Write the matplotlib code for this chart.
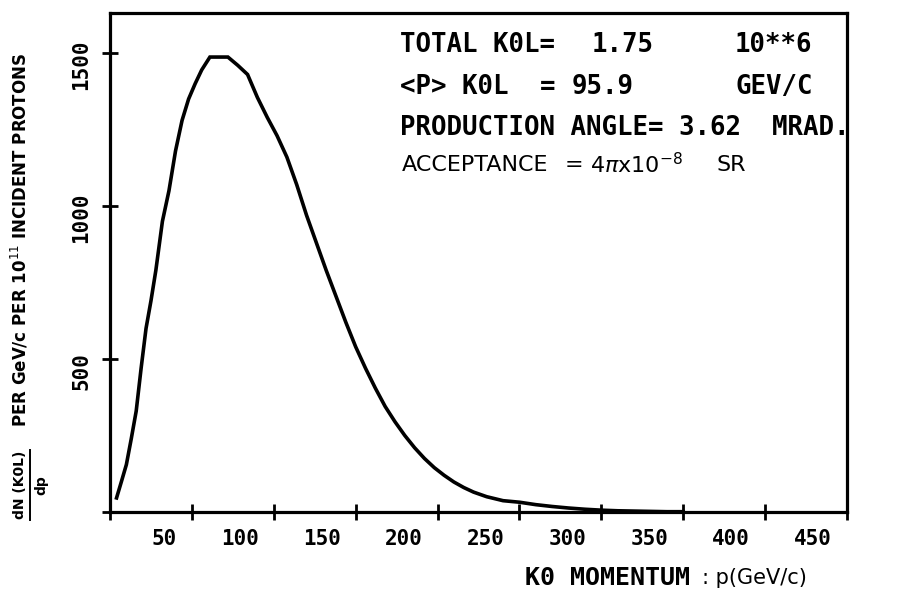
import matplotlib
matplotlib.use("Agg")
import matplotlib.pyplot as plt
from matplotlib.transforms import ScaledTranslation
from matplotlib.lines import Line2D

# ---- data ----
momentum = [4, 7, 10, 13, 16, 19, 22, 25, 28, 32, 36, 40, 44, 48, 52, 56, 61,
            72, 78, 84, 90, 96, 102, 108, 114, 120, 126, 132, 138, 144, 150,
            156, 162, 168, 174, 180, 186, 192, 198, 204, 210, 216, 222, 230,
            240, 250, 260, 270, 280, 290, 300, 310, 320, 330, 340, 350]
dn_dp = [46, 100, 155, 240, 330, 470, 600, 690, 790, 950, 1050, 1180, 1280,
         1350, 1400, 1445, 1487,
         1487, 1460, 1430, 1355, 1290, 1230, 1160, 1070, 970, 880, 790, 705,
         620, 540, 470, 405, 345, 295, 250, 210, 175, 145, 120, 98, 80, 65,
         50, 37, 32, 24, 18, 13, 9, 6, 4, 3, 2, 1, 1]

x_ticks = [0, 50, 100, 150, 200, 250, 300, 350, 400, 450]
x_ticklabels = ["", "50", "100", "150", "200", "250", "300", "350", "400", "450"]
y_ticks = [0, 500, 1000, 1500]
y_ticklabels = ["", "500", "1000", "1500"]

# info block: (text, x pixel, y pixel)
info_parts = [("TOTAL K0L=", 400, 45), ("1.75", 592, 45), ("10**6", 735, 45),
              ("<P> K0L", 400, 87), ("=", 540, 87), ("95.9", 572, 87),
              ("GEV/C", 735, 87),
              ("PRODUCTION ANGLE= 3.62  MRAD.", 400, 128)]
accept_parts = [("ACCEPTANCE", 402), ("=", 565), (r"4$\pi$x10$^{-8}$", 590),
                ("SR", 716)]

W, H = 905, 591
fig = plt.figure(figsize=(W / 100, H / 100), dpi=100)
ax = fig.add_axes([110 / W, 1 - 512 / H, (847 - 110) / W, (512 - 13) / H])

mono = "DejaVu Sans Mono"

ax.plot(momentum, dn_dp, color="black", lw=2.6, solid_joinstyle="miter")
ax.set_xlim(0, 450)
ax.set_ylim(0, 1631)

for s in ax.spines.values():
    s.set_linewidth(2.3)
    s.set_color("black")

ax.set_xticks(x_ticks)
ax.set_xticklabels(x_ticklabels, fontsize=15, family=mono, fontweight="bold")
ax.set_yticks(y_ticks)
ax.set_yticklabels(y_ticklabels, fontsize=15, family=mono, fontweight="bold",
                   rotation=90, va="center")
ax.tick_params(axis="both", direction="inout", length=11, width=2.0,
               color="black")
ax.tick_params(axis="x", pad=7)
ax.tick_params(axis="y", pad=8)

dx = ScaledTranslation(-15 / 100, 0, fig.dpi_scale_trans)
for lbl in ax.get_xticklabels():
    lbl.set_horizontalalignment("right")
    lbl.set_transform(lbl.get_transform() + dx)
dy = ScaledTranslation(0, -12 / 100, fig.dpi_scale_trans)
for lbl in ax.get_yticklabels():
    lbl.set_transform(lbl.get_transform() + dy)

# info text block
for txt, xp, yp in info_parts:
    fig.text(xp / W, 1 - yp / H, txt, fontsize=18.5, family=mono,
             fontweight="bold", ha="left", va="center")
for txt, xp in accept_parts:
    fig.text(xp / W, 1 - 165 / H, txt, fontsize=16, family="DejaVu Sans",
             ha="left", va="center")

# x label
fig.text(525 / W, 1 - 578 / H, "K0 MOMENTUM", fontsize=18, family=mono,
         fontweight="bold", ha="left", va="center")
fig.text(702 / W, 1 - 578 / H, ": p(GeV/c)", fontsize=15, family="DejaVu Sans",
         ha="left", va="center")

# y label (fraction + rest)
fig.text(20 / W, 1 - 485 / H, "dN (K0L)", fontsize=10, family="DejaVu Sans",
         fontweight="bold", rotation=90, ha="center", va="center")
fig.add_artist(Line2D([30 / W, 30 / W], [1 - 450 / H, 1 - 520 / H],
                      transform=fig.transFigure, color="black", lw=1.4))
fig.text(41 / W, 1 - 485 / H, "dp", fontsize=10, family="DejaVu Sans",
         fontweight="bold", rotation=90, ha="center", va="center")
fig.text(20 / W, 1 - 240 / H, r"PER GeV/c PER 10$^{11}$ INCIDENT PROTONS",
         fontsize=12, family="DejaVu Sans", fontweight="bold", rotation=90,
         ha="center", va="center")

fig.savefig("out.png", dpi=100)
